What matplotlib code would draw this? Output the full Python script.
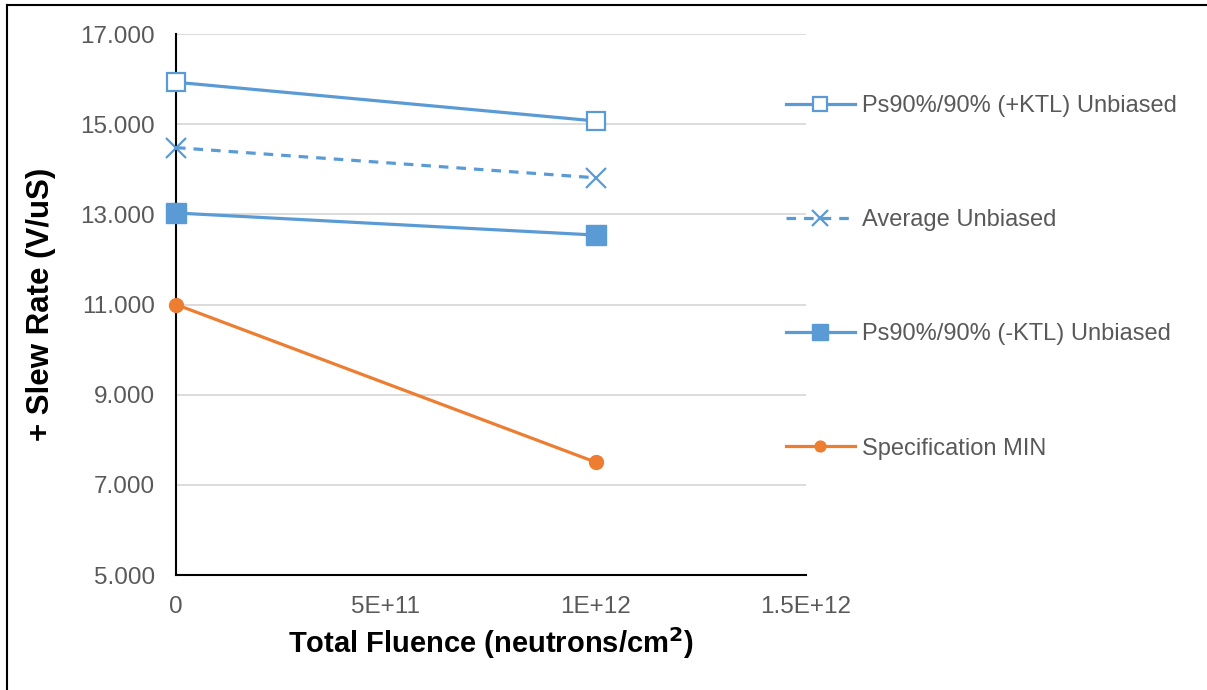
import matplotlib.pyplot as plt
from matplotlib.lines import Line2D

plt.rcParams['font.family'] = ['Liberation Sans', 'DejaVu Sans']

# Data
fluence = [0, 1e12]
ktl_plus = [15.93, 15.07]
average = [14.48, 13.81]
ktl_minus = [13.03, 12.54]
spec_min = [11.0, 7.5]

y_ticks = [5, 7, 9, 11, 13, 15, 17]
x_ticks = [0, 5e11, 1e12, 1.5e12]
x_tick_labels = ['0', '5E+11', '1E+12', '1.5E+12']

blue = '#5B9BD5'
orange = '#ED7D31'
grey_text = '#595959'

fig = plt.figure(figsize=(12.07, 6.90), dpi=100)
ax = fig.add_axes([176 / 1207, 1 - 575 / 690, (806 - 176) / 1207, (575 - 34) / 690])

ax.plot(fluence, ktl_plus, color=blue, lw=2.3, marker='s', ms=13.5,
        mfc='white', mec=blue, mew=1.6, label='Ps90%/90% (+KTL) Unbiased', clip_on=False, zorder=3)
ax.plot(fluence, average, color=blue, lw=2.3, ls=(0, (3, 2.5)), marker='x', ms=14,
        mec=blue, mew=1.6, label='Average Unbiased', clip_on=False, zorder=3)
ax.plot(fluence, ktl_minus, color=blue, lw=2.3, marker='s', ms=14,
        mfc=blue, mec=blue, label='Ps90%/90% (-KTL) Unbiased', clip_on=False, zorder=3)
ax.plot(fluence, spec_min, color=orange, lw=2.3, marker='o', ms=10,
        mfc=orange, mec=orange, label='Specification MIN', clip_on=False, zorder=3)

ax.set_xlim(0, 1.5e12)
ax.set_ylim(5, 17)
ax.set_xticks(x_ticks)
ax.set_xticklabels(x_tick_labels)
ax.set_yticks(y_ticks)
ax.set_yticklabels(['%.3f' % v for v in y_ticks])
ax.tick_params(axis='both', length=0, labelsize=17.5, colors=grey_text)
ax.tick_params(axis='y', pad=15)
ax.tick_params(axis='x', pad=15)

ax.grid(axis='y', color='#D9D9D9', lw=1.3)
ax.set_axisbelow(True)
for s in ['top', 'right']:
    ax.spines[s].set_visible(False)
ax.spines['left'].set_color('black')
ax.spines['bottom'].set_color('black')
ax.spines['left'].set_linewidth(1.5)
ax.spines['bottom'].set_linewidth(1.5)

ax.set_xlabel('Total Fluence (neutrons/cm$^\\mathbf{2}$)', fontsize=21, fontweight='bold', labelpad=5)
ax.set_ylabel('+ Slew Rate (V/uS)', fontsize=22.5, fontweight='bold', labelpad=18)

leg = ax.legend(loc='upper left', bbox_to_anchor=(765 / 1207, 1 - 74 / 690),
                bbox_transform=fig.transFigure, frameon=False, fontsize=17,
                handlelength=2.9, handletextpad=0.3, labelspacing=3.9, markerscale=0.78)
for t in leg.get_texts():
    t.set_color(grey_text)

# border lines on left and top
fig.add_artist(Line2D([7 / 1207, 7 / 1207], [0, 1 - 5 / 690], color='black', lw=1.5))
fig.add_artist(Line2D([7 / 1207, 1], [1 - 5 / 690, 1 - 5 / 690], color='black', lw=1.5))

fig.savefig('out.png', dpi=100)
